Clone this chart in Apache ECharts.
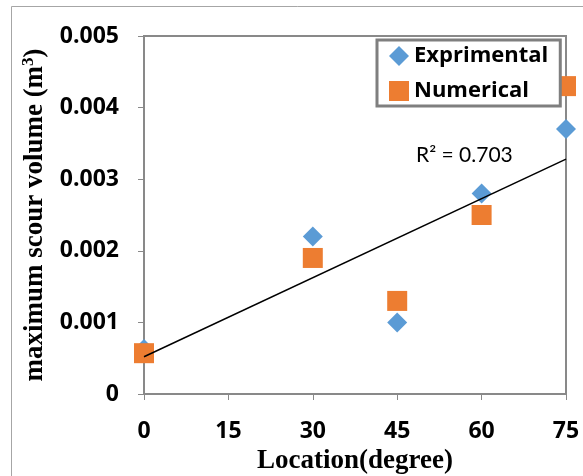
<!DOCTYPE html>
<html>
<head>
<meta charset="utf-8">
<script src="https://cdn.jsdelivr.net/npm/echarts@6/dist/echarts.min.js"></script>
<style>
html,body{margin:0;padding:0;background:#fff;}
#chart{width:583px;height:476px;}
</style>
</head>
<body>
<div id="chart"></div>
<script>
var locations = [0, 30, 45, 60, 75];
var experimental = [0.00063, 0.0022, 0.0010, 0.0028, 0.0037];
var numerical = [0.00057, 0.0019, 0.0013, 0.0025, 0.0043];
var trendX = [0, 75];
var trendY = [0.00052, 0.00328];
var r2Text = 'R\u00B2 = 0.703';

function pairs(xs, ys) { return xs.map(function (x, i) { return [x, ys[i]]; }); }

var chart = echarts.init(document.getElementById('chart'));
var axisGray = '#898989';
var sansFont = 'Open Sans';
var option = {
  backgroundColor: '#fff',
  animation: false,
  grid: {
    left: 144, top: 36, right: 17, bottom: 82,
    show: true, borderColor: axisGray, borderWidth: 2, backgroundColor: 'transparent',
    outerBoundsMode: 'none'
  },
  legend: {
    orient: 'vertical',
    left: 377, top: 40,
    padding: [5, 12, 4, 12],
    itemGap: 13,
    itemWidth: 20, itemHeight: 20,
    borderColor: '#7f7f7f', borderWidth: 3,
    backgroundColor: '#fff',
    data: [
      { name: 'Exprimental', icon: 'diamond' },
      { name: 'Numerical', icon: 'rect' }
    ],
    textStyle: { fontFamily: sansFont, fontWeight: 'bold', fontSize: 22, color: '#000' }
  },
  xAxis: {
    type: 'value', min: 0, max: 75, interval: 15,
    axisLine: { show: true, lineStyle: { color: axisGray, width: 2 } },
    axisTick: { show: true, inside: false, length: 6, lineStyle: { color: axisGray, width: 1 } },
    splitLine: { show: false },
    axisLabel: { margin: 26, fontFamily: sansFont, fontWeight: 'bold', fontSize: 23, color: '#000' },
    name: 'Location(degree)', nameLocation: 'middle', nameGap: 54,
    nameTextStyle: { fontFamily: 'Liberation Serif', fontWeight: 'bold', fontSize: 27, color: '#000' }
  },
  yAxis: {
    type: 'value', min: 0, max: 0.005, interval: 0.001,
    axisLine: { show: true, lineStyle: { color: axisGray, width: 2 } },
    axisTick: { show: true, inside: false, length: 6, lineStyle: { color: axisGray, width: 1 } },
    splitLine: { show: false },
    axisLabel: {
      margin: 25, fontFamily: sansFont, fontWeight: 'bold', fontSize: 23, color: '#000',
      formatter: function (v) { return v === 0 ? '0' : v.toFixed(3); }
    },
    name: 'maximum scour volume (m{sup|3})', nameLocation: 'middle', nameGap: 93, nameRotate: 90,
    nameTextStyle: {
      fontFamily: 'Liberation Serif', fontWeight: 'bold', fontSize: 27, color: '#000',
      rich: { sup: { fontFamily: 'Liberation Serif', fontWeight: 'bold', fontSize: 17, verticalAlign: 'top', lineHeight: 30, padding: [0, 0, 10, 0] } }
    }
  },
  series: [
    {
      name: 'Exprimental', type: 'scatter', symbol: 'diamond', symbolSize: [20, 20],
      itemStyle: { color: '#5B9BD5', opacity: 1 },
      data: pairs(locations, experimental), z: 2
    },
    {
      name: 'Numerical', type: 'scatter', symbol: 'rect', symbolSize: [20, 20],
      itemStyle: { color: '#ED7D31', opacity: 1 },
      data: pairs(locations, numerical), z: 3
    },
    {
      name: 'Trend', type: 'line', showSymbol: false, symbol: 'none',
      lineStyle: { color: '#000', width: 1.5 },
      data: pairs(trendX, trendY), z: 4, silent: true
    }
  ],
  graphic: [
    {
      type: 'rect', shape: { x: 11.5, y: 6.5, width: 620, height: 520 },
      style: { fill: 'none', stroke: '#a6a6a6', lineWidth: 1 }, z: -10
    },
    {
      type: 'text', left: 416, top: 145,
      style: { text: r2Text, fontFamily: 'Lato', fontSize: 21, fill: '#000' }, z: 10
    }
  ]
};
chart.setOption(option);
</script>
</body>
</html>
